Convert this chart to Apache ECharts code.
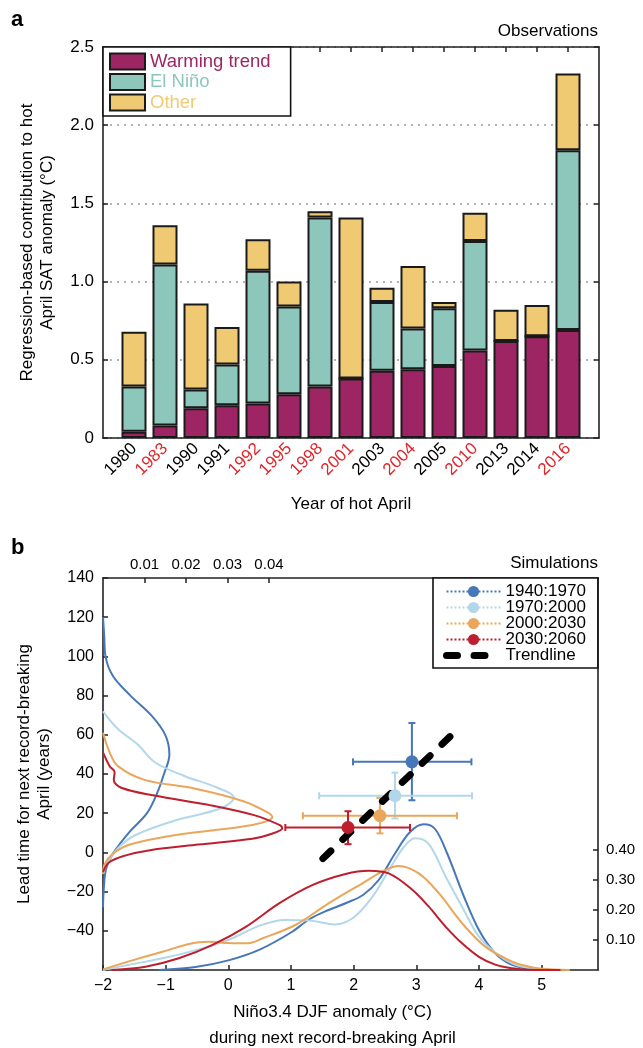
<!DOCTYPE html>
<html lang="en">
<head>
<meta charset="utf-8">
<title>Hot April contributions and simulations</title>
<script src="https://cdn.jsdelivr.net/npm/echarts@6/dist/echarts.min.js"></script>
<style>html, body { margin: 0; padding: 0; background: #fff; }</style>
</head>
<body>
<div id="main" style="width:643px;height:1048px;"></div>
<script type="text/javascript">
// ---- panel a: observed hot Aprils ----
var years = ['1980', '1983', '1990', '1991', '1992', '1995', '1998', '2001', '2003', '2004', '2005', '2010', '2013', '2014', '2016'];
var redYears = ['1983', '1992', '1995', '1998', '2001', '2004', '2010', '2016'];
var warming = [0.04, 0.08, 0.19, 0.21, 0.22, 0.28, 0.33, 0.38, 0.43, 0.44, 0.46, 0.56, 0.62, 0.65, 0.69];
var elNino  = [0.29, 1.03, 0.12, 0.26, 0.85, 0.56, 1.08, 0.00, 0.44, 0.26, 0.37, 0.70, 0.00, 0.00, 1.15];
var other   = [0.35, 0.25, 0.55, 0.24, 0.20, 0.16, 0.04, 1.03, 0.09, 0.40, 0.04, 0.18, 0.20, 0.20, 0.49];

// ---- panel b: simulations ----
var periods = ['1940:1970', '1970:2000', '2000:2030', '2030:2060'];
var ptX = [2.93, 2.66, 2.42, 1.91];
var ptY = [46.2, 28.9, 18.7, 12.7];
var xLo = [1.99, 1.45, 1.19, 0.91];
var xHi = [3.88, 3.89, 3.65, 2.90];
var yLo = [26.6, 17.3, 9.7, 4.2];
var yHi = [66.0, 40.7, 27.8, 21.0];
var trendX = [1.51, 3.60];
var trendY = [-3.1, 61.0];

// lead-time densities, [density, years]
var leadKde1940 = [[0, 120], [0.0003, 110], [0.0006, 100], [0.0024, 90], [0.0066, 80], [0.0116, 70], [0.0150, 60], [0.0160, 50], [0.0147, 40], [0.0130, 30], [0.0106, 20], [0.0062, 10], [0.0026, 0], [0.0008, -8], [0.0002, -18], [0, -28]];
var leadKde1970 = [[0, 72], [0.0036, 63], [0.0084, 55], [0.0125, 46], [0.0196, 39], [0.0276, 33], [0.0316, 28], [0.0284, 22.5], [0.0170, 16], [0.0080, 9], [0.0040, 3], [0.0012, -4.6], [0, -11]];
var leadKde2000 = [[0, 61], [0.0016, 51], [0.0036, 44], [0.0100, 37], [0.0220, 32.6], [0.0340, 26], [0.0400, 20], [0.0408, 18], [0.0360, 14], [0.0180, 9], [0.0065, 4], [0.0022, -1], [0.0004, -6], [0, -11]];
var leadKde2030 = [[0, 51], [0.0016, 44], [0.0028, 41], [0.0026, 37], [0.0044, 33], [0.0124, 29], [0.0260, 24], [0.0364, 19], [0.0425, 14], [0.0432, 12.3], [0.0400, 9], [0.0360, 7], [0.0230, 4], [0.0110, 1], [0.0055, -1.5], [0.0015, -5], [0, -10]];

// Nino3.4 densities, [anomaly, density]
var ninoKde1940 = [[-1.1, 0], [-0.5, 0.011], [0, 0.032], [0.5, 0.068], [1.0, 0.125], [1.3, 0.17], [1.6, 0.2], [1.9, 0.225], [2.15, 0.25], [2.4, 0.3], [2.65, 0.385], [2.9, 0.46], [3.12, 0.486], [3.3, 0.47], [3.5, 0.385], [3.75, 0.25], [4.0, 0.133], [4.25, 0.058], [4.5, 0.02], [4.8, 0.004], [5.1, 0]];
var ninoKde1970 = [[-2, 0], [-1.6, 0.017], [-1.05, 0.039], [-0.5, 0.067], [0, 0.1], [0.5, 0.148], [0.9, 0.167], [1.3, 0.165], [1.7, 0.152], [2.0, 0.175], [2.3, 0.244], [2.55, 0.328], [2.8, 0.41], [2.98, 0.439], [3.2, 0.42], [3.47, 0.311], [3.73, 0.211], [4.0, 0.111], [4.27, 0.056], [4.53, 0.022], [4.8, 0.006], [5.1, 0]];
var ninoKde2000 = [[-2, 0.002], [-1.6, 0.028], [-1.05, 0.061], [-0.5, 0.092], [-0.3, 0.094], [0, 0.09], [0.3, 0.089], [0.55, 0.106], [1.07, 0.15], [1.6, 0.222], [2.14, 0.289], [2.5, 0.333], [2.72, 0.347], [3.04, 0.322], [3.36, 0.256], [3.73, 0.156], [4.1, 0.078], [4.53, 0.028], [4.8, 0.011], [5.0, 0.004], [5.45, 0]];
var ninoKde2030 = [[-1.85, 0], [-1.32, 0.011], [-0.79, 0.039], [-0.26, 0.083], [0.28, 0.144], [0.81, 0.222], [1.34, 0.283], [1.87, 0.32], [2.24, 0.331], [2.56, 0.322], [2.94, 0.267], [3.2, 0.211], [3.47, 0.144], [3.73, 0.089], [4.0, 0.044], [4.27, 0.017], [4.53, 0.006], [4.8, 0.001], [5.3, 0]];

// tick labels
var ninoTicks = [-2, -1, 0, 1, 2, 3, 4, 5];
var leadTicks = [-40, -20, 0, 20, 40, 60, 80, 100, 120, 140];
var leadDensTicks = [0.01, 0.02, 0.03, 0.04];
var ninoDensTicks = [0.1, 0.2, 0.3, 0.4];

var FONT = 'Liberation Sans, Arial, Helvetica, sans-serif';
var barColors = ['#9E2563', '#8DC7BC', '#F0CA72'];
var periodColors = ['#4677B8', '#B3D7EA', '#EAA65A', '#BE1E2D'];
var axisLine = { show: true, onZero: false, lineStyle: { color: '#222', width: 1.6 } };
var tickStyle = { color: '#222', width: 1.5 };
var tickIn = { show: true, inside: true, length: 5, lineStyle: tickStyle };

function minus(v) { return v < 0 ? '\u2212' + (-v) : '' + v; }

// padded categories so the frame leaves one bar slot free at both ends
var cats = [' '].concat(years.map(function (y) {
    return { value: y, textStyle: { color: redYears.indexOf(y) >= 0 ? '#E0262C' : '#000' } };
})).concat(['  ']);
function pad(arr) { return ['-'].concat(arr).concat(['-']); }

var errData = periods.map(function (p, i) {
    return [ptX[i], ptY[i], xLo[i], xHi[i], yLo[i], yHi[i]];
});

function renderErr(params, api) {
    var col = periodColors[params.dataIndex];
    var l = api.coord([api.value(2), api.value(1)]);
    var r = api.coord([api.value(3), api.value(1)]);
    var b = api.coord([api.value(0), api.value(4)]);
    var t = api.coord([api.value(0), api.value(5)]);
    var st = { stroke: col, lineWidth: 2 };
    var c = 3.5;
    return {
        type: 'group',
        children: [
            { type: 'line', shape: { x1: l[0], y1: l[1], x2: r[0], y2: r[1] }, style: st },
            { type: 'line', shape: { x1: l[0], y1: l[1] - c, x2: l[0], y2: l[1] + c }, style: st },
            { type: 'line', shape: { x1: r[0], y1: r[1] - c, x2: r[0], y2: r[1] + c }, style: st },
            { type: 'line', shape: { x1: b[0], y1: b[1], x2: t[0], y2: t[1] }, style: st },
            { type: 'line', shape: { x1: b[0] - c, y1: b[1], x2: b[0] + c, y2: b[1] }, style: st },
            { type: 'line', shape: { x1: t[0] - c, y1: t[1], x2: t[0] + c, y2: t[1] }, style: st }
        ]
    };
}

var myChart = echarts.init(document.getElementById('main'));

var series = [
    { name: 'Warming trend', type: 'bar', stack: 'obs', data: pad(warming) },
    { name: 'El Niño', type: 'bar', stack: 'obs', data: pad(elNino) },
    { name: 'Other', type: 'bar', stack: 'obs', data: pad(other) }
].map(function (s, i) {
    s.xAxisIndex = 0;
    s.yAxisIndex = 0;
    s.barWidth = 25;
    s.itemStyle = { color: barColors[i], borderColor: '#1a1a1a', borderWidth: 2 };
    s.animation = false;
    return s;
});

// density curves
var leadKdes = [leadKde1940, leadKde1970, leadKde2000, leadKde2030];
var ninoKdes = [ninoKde1940, ninoKde1970, ninoKde2000, ninoKde2030];
leadKdes.forEach(function (d, i) {
    series.push({
        name: 'lead ' + periods[i], type: 'line', xAxisIndex: 3, yAxisIndex: 2,
        data: d, smooth: 0.35, showSymbol: false, symbol: 'none',
        lineStyle: { color: periodColors[i], width: 2 }, z: 2, animation: false
    });
});
ninoKdes.forEach(function (d, i) {
    series.push({
        name: 'nino ' + periods[i], type: 'line', xAxisIndex: 2, yAxisIndex: 3,
        data: d, smooth: 0.35, showSymbol: false, symbol: 'none',
        lineStyle: { color: periodColors[i], width: 2 }, z: 2, animation: false
    });
});

series.push({
    name: 'errors', type: 'custom', xAxisIndex: 2, yAxisIndex: 2,
    data: errData, renderItem: renderErr, z: 3, animation: false
});

series.push({
    name: 'Trendline', type: 'line', xAxisIndex: 2, yAxisIndex: 2,
    data: trendX.map(function (x, i) { return [x, trendY[i]]; }),
    symbol: 'none',
    itemStyle: { color: 'rgba(0,0,0,0)' },
    lineStyle: { color: '#000', width: 7, type: [11, 16.5], cap: 'round' },
    z: 4, animation: false
});

periods.forEach(function (p, i) {
    series.push({
        name: p, type: 'line', xAxisIndex: 2, yAxisIndex: 2,
        data: [[ptX[i], ptY[i]]],
        symbol: 'circle', symbolSize: 13,
        itemStyle: { color: periodColors[i] },
        lineStyle: { color: periodColors[i], type: 'dotted', width: 2 },
        z: 5, animation: false
    });
});

var option = {
    backgroundColor: '#fff',
    textStyle: { fontFamily: FONT },
    title: [
        { text: 'a', left: 6, top: 4, textStyle: { fontFamily: FONT, fontSize: 22, fontWeight: 'bold', color: '#000' } },
        { text: 'Observations', right: 40, top: 18, textStyle: { fontFamily: FONT, fontSize: 17, fontWeight: 'normal', color: '#000' } },
        { text: 'b', left: 6, top: 532, textStyle: { fontFamily: FONT, fontSize: 22, fontWeight: 'bold', color: '#000' } },
        { text: 'Simulations', right: 40, top: 550, textStyle: { fontFamily: FONT, fontSize: 17, fontWeight: 'normal', color: '#000' } }
    ],
    legend: [
        {
            data: [
                { name: 'Warming trend', textStyle: { color: barColors[0] } },
                { name: 'El Niño', textStyle: { color: barColors[1] } },
                { name: 'Other', textStyle: { color: barColors[2] } }
            ],
            icon: 'rect',
            orient: 'vertical', left: 103, top: 47,
            itemWidth: 35, itemHeight: 16, itemGap: 1.5,
            padding: [5, 20, 4, 6],
            borderColor: '#111', borderWidth: 1.6, backgroundColor: '#fff',
            textStyle: { fontFamily: FONT, fontSize: 18.5 },
            selectedMode: false
        },
        {
            data: periods.concat([{ name: 'Trendline', lineStyle: { width: 7 } }]),
            orient: 'vertical', left: 433, top: 578,
            itemWidth: 54, itemHeight: 14, itemGap: -1,
            padding: [5, 12, 4, 10],
            borderColor: '#111', borderWidth: 1.6, backgroundColor: '#fff',
            textStyle: { fontFamily: FONT, fontSize: 17, color: '#000' },
            selectedMode: false
        }
    ],
    grid: [
        { left: 103, right: 44, top: 47, height: 391, outerBoundsMode: 'none' },
        { left: 103, right: 45, top: 578, height: 392, outerBoundsMode: 'none' }
    ],
    xAxis: [
        {
            gridIndex: 0, type: 'category', boundaryGap: false, data: cats,
            axisLine: axisLine, axisTick: { show: false },
            axisLabel: { interval: 0, rotate: 45, fontSize: 17, margin: 8, fontFamily: FONT },
            name: 'Year of hot April', nameLocation: 'middle', nameGap: 58,
            nameTextStyle: { fontSize: 17, color: '#000', fontFamily: FONT }
        },
        {
            gridIndex: 0, type: 'category', position: 'top', boundaryGap: false, data: cats,
            axisLine: axisLine,
            axisTick: { show: true, inside: true, length: 5, lineStyle: tickStyle,
                interval: function (i) { return i > 0 && i <= years.length; } },
            axisLabel: { show: false }
        },
        {
            gridIndex: 1, type: 'value', min: -2, max: 5.9, position: 'bottom',
            axisLine: axisLine,
            axisTick: { show: true, inside: true, length: 5, lineStyle: tickStyle, customValues: ninoTicks },
            axisLabel: { customValues: ninoTicks, formatter: minus, fontSize: 16, color: '#000', margin: 8 },
            splitLine: { show: false },
            name: 'Niño3.4 DJF anomaly (°C)\nduring next record-breaking April',
            nameLocation: 'middle', nameGap: 29,
            nameTextStyle: { fontSize: 17, lineHeight: 26, color: '#000', fontFamily: FONT, padding: [0, 36, 0, 0] }
        },
        {
            gridIndex: 1, type: 'value', min: 0, max: 0.1193, position: 'top',
            axisLine: axisLine,
            axisTick: { show: true, inside: true, length: 5, lineStyle: tickStyle, customValues: leadDensTicks },
            axisLabel: { customValues: leadDensTicks, formatter: function (v) { return v.toFixed(2); }, fontSize: 15, color: '#000', margin: 6 },
            splitLine: { show: false }
        }
    ],
    yAxis: [
        {
            gridIndex: 0, type: 'value', min: 0, max: 2.5, interval: 0.5,
            axisLine: axisLine, axisTick: tickIn,
            axisLabel: { formatter: function (v) { return v === 0 ? '0' : v.toFixed(1); }, fontSize: 17, color: '#000', margin: 9 },
            splitLine: { show: true, lineStyle: { color: '#9a9a9a', type: [2, 5], width: 1.6 } },
            name: 'Regression-based contribution to hot\nApril SAT anomaly (°C)',
            nameLocation: 'middle', nameGap: 46, nameRotate: 90,
            nameTextStyle: { fontSize: 17, lineHeight: 20, color: '#000', fontFamily: FONT }
        },
        {
            gridIndex: 0, type: 'value', min: 0, max: 2.5, interval: 0.5, position: 'right',
            axisLine: axisLine, axisTick: tickIn,
            axisLabel: { show: false }, splitLine: { show: false }
        },
        {
            gridIndex: 1, type: 'value', min: -60, max: 140, interval: 20,
            axisLine: axisLine, axisTick: tickIn,
            axisLabel: { customValues: leadTicks, formatter: minus, fontSize: 16, color: '#000', margin: 9 },
            splitLine: { show: false },
            name: 'Lead time for next record-breaking\nApril (years)',
            nameLocation: 'middle', nameGap: 49, nameRotate: 90,
            nameTextStyle: { fontSize: 17, lineHeight: 20, color: '#000', fontFamily: FONT }
        },
        {
            gridIndex: 1, type: 'value', min: 0, max: 1.3067, position: 'right',
            axisLine: axisLine,
            axisTick: { show: true, inside: true, length: 5, lineStyle: tickStyle, customValues: ninoDensTicks },
            axisLabel: { customValues: ninoDensTicks, formatter: function (v) { return v.toFixed(2); }, fontSize: 15, color: '#000', margin: 8 },
            splitLine: { show: false }
        }
    ],
    series: series
};

myChart.setOption(option);
</script>
</body>
</html>
